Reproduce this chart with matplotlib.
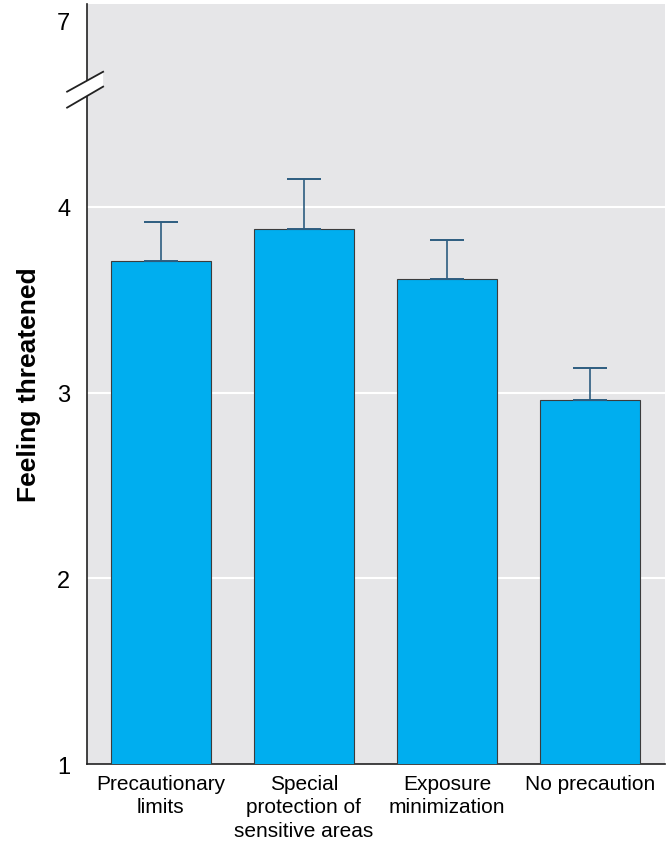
import numpy as np
import matplotlib
matplotlib.use('Agg')
import matplotlib.pyplot as plt
from matplotlib.patches import Polygon

plt.rcParams['font.family'] = ['Liberation Sans', 'DejaVu Sans']

# Data
categories = ['Precautionary\nlimits', 'Special\nprotection of\nsensitive areas',
              'Exposure\nminimization', 'No precaution']
means      = [3.71, 3.88, 3.61, 2.96]
upper_err  = [0.21, 0.27, 0.21, 0.17]
tick_vals  = [1, 2, 3, 4, 5.0]
tick_text  = ['1', '2', '3', '4', '7']

bar_color = '#00aeef'
bg_color  = '#e6e6e8'

fig = plt.figure(figsize=(6.7, 8.54), dpi=100)
ax = fig.add_axes([0.130, 0.104, 0.8625, 0.890])
ax.set_facecolor(bg_color)

x = np.arange(len(categories))
ax.bar(x, means, width=0.70, bottom=0, color=bar_color,
       edgecolor='#3c3c3c', linewidth=0.8, zorder=3)
ax.errorbar(x, means, yerr=[np.zeros(len(means)), upper_err], fmt='none',
            ecolor='#2d5d80', elinewidth=1.2, capsize=12, capthick=1.4, zorder=4)

ax.set_xlim(-0.514, 3.524)
ax.set_ylim(1, 5.09)
ax.set_yticks(tick_vals)
ax.set_yticklabels(tick_text, fontsize=17)
ax.set_xticks(x)
ax.set_xticklabels(categories, fontsize=15, linespacing=1.3)
ax.tick_params(axis='x', length=0, pad=7)
ax.tick_params(axis='y', length=0, pad=12)

for v in [2, 3, 4]:
    ax.axhline(v, color='white', linewidth=1.5, zorder=1)

for s in ['top', 'right']:
    ax.spines[s].set_visible(False)
for s in ['left', 'bottom']:
    ax.spines[s].set_color('#222222')
    ax.spines[s].set_linewidth(1.2)

ax.set_ylabel('Feeling threatened', fontsize=19, fontweight='bold', labelpad=12)

# axis break marks (x in axes fraction, y in data)
trans = ax.get_yaxis_transform()
lo_line = [(-0.0346, 4.533), (0.0277, 4.646)]
hi_line = [(-0.0346, 4.619), (0.0277, 4.726)]
poly = Polygon([lo_line[0], lo_line[1], hi_line[1], hi_line[0]],
               closed=True, transform=trans, facecolor='white', edgecolor='none',
               clip_on=False, zorder=5)
ax.add_patch(poly)
for ln in [lo_line, hi_line]:
    ax.plot([ln[0][0], ln[1][0]], [ln[0][1], ln[1][1]],
            transform=trans, color='#222222', linewidth=1.3, clip_on=False, zorder=6)

fig.savefig('out.png', dpi=100)
